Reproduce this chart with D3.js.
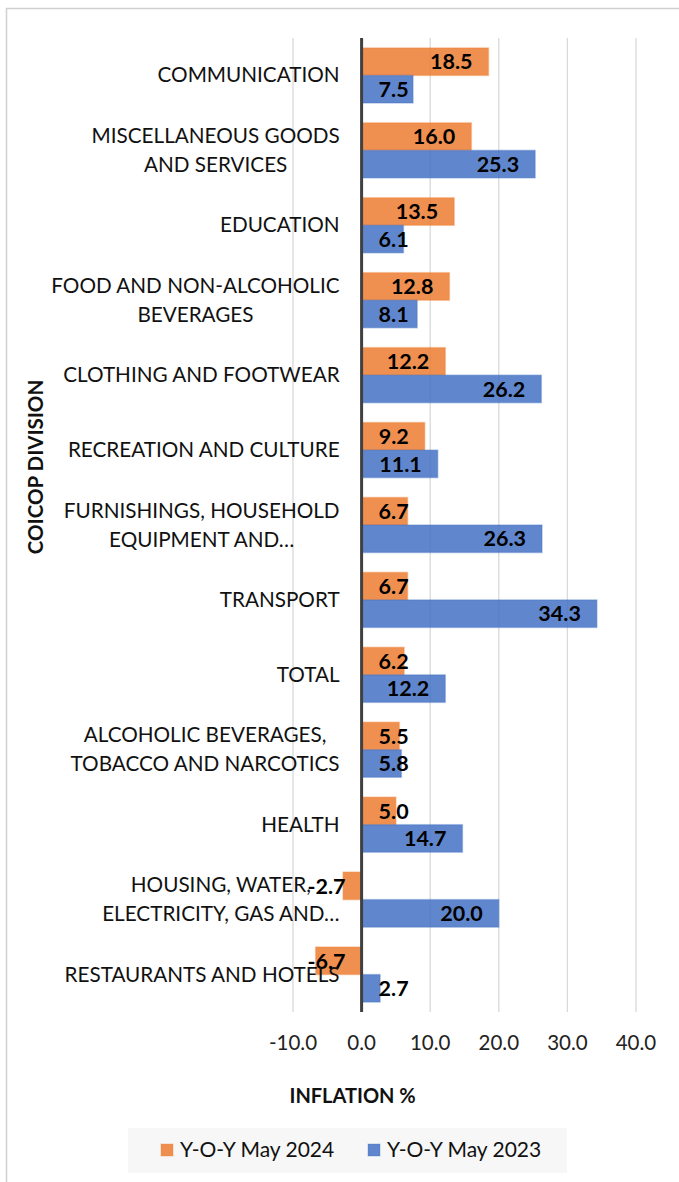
<!DOCTYPE html>
<html>
<head>
<meta charset="utf-8">
<script src="https://cdn.jsdelivr.net/npm/d3@7"></script>
<style>
  body { margin: 0; background: #fff; }
  svg { display: block; font-family: Lato, "Open Sans", sans-serif; }
</style>
</head>
<body>
<div id="chart"></div>
<script>
const F_WIDTH = 679;
const F_HEIGHT = 1182;
const MARGINS = {left: 293, right: 43, top: 38, bottom: 170};

const VIS_WIDTH = F_WIDTH - MARGINS.left - MARGINS.right;
const VIS_HEIGHT = F_HEIGHT - MARGINS.top - MARGINS.bottom;

// categories, top to bottom ("\n" = line break in the axis label)
const CATEGORIES = [
  "COMMUNICATION",
  "MISCELLANEOUS GOODS\nAND SERVICES",
  "EDUCATION",
  "FOOD AND NON-ALCOHOLIC\nBEVERAGES",
  "CLOTHING AND FOOTWEAR",
  "RECREATION AND CULTURE",
  "FURNISHINGS, HOUSEHOLD\nEQUIPMENT AND…",
  "TRANSPORT",
  "TOTAL",
  "ALCOHOLIC BEVERAGES,\nTOBACCO AND NARCOTICS",
  "HEALTH",
  "HOUSING, WATER,\nELECTRICITY, GAS AND…",
  "RESTAURANTS AND HOTELS"
];

const MAY_2024 = [18.5, 16.0, 13.5, 12.8, 12.2, 9.2, 6.7, 6.7, 6.2, 5.5, 5.0, -2.7, -6.7];
const MAY_2023 = [7.5, 25.3, 6.1, 8.1, 26.2, 11.1, 26.3, 34.3, 12.2, 5.8, 14.7, 20.0, 2.7];

const SERIES = ["Y-O-Y May 2024", "Y-O-Y May 2023"];
const X_TICKS = [-10, 0, 10, 20, 30, 40];

const COLORS = d3.scaleOrdinal()
        .domain(SERIES)
        .range(["#ED7D31", "#4472C4"]);

// one decimal, plain hyphen for negatives (like the original)
const FMT = (v) => d3.format(".1f")(v).replace("\u2212", "-");

const FRAME = d3.select("#chart")
            .append("svg")
              .attr("width", F_WIDTH)
              .attr("height", F_HEIGHT);

// outer chart border
FRAME.append("rect")
      .attr("x", 6.5)
      .attr("y", 8.5)
      .attr("width", F_WIDTH)
      .attr("height", F_HEIGHT)
      .attr("fill", "none")
      .attr("stroke", "#d0d0d0")
      .attr("stroke-width", 1.5);

const X_SCALE = d3.scaleLinear()
          .domain([-10, 40])
          .range([0, VIS_WIDTH]);

const Y_SCALE = d3.scaleBand()
          .domain(d3.range(CATEGORIES.length))
          .range([0, VIS_HEIGHT])
          .paddingInner(0.265)
          .paddingOuter(0.1325);

const SUB_SCALE = d3.scaleBand()
          .domain(SERIES)
          .range([0, Y_SCALE.bandwidth()]);

const VIS = FRAME.append("g")
        .attr("transform", "translate(" + MARGINS.left + "," + MARGINS.top + ")");

// vertical gridlines
VIS.append("g")
    .selectAll("line")
    .data(X_TICKS)
    .enter()
    .append("line")
      .attr("x1", (d) => X_SCALE(d))
      .attr("x2", (d) => X_SCALE(d))
      .attr("y1", 0)
      .attr("y2", VIS_HEIGHT)
      .attr("stroke", "#d9d9d9")
      .attr("stroke-width", 1.3);

// tick labels
VIS.append("g")
    .selectAll("text")
    .data(X_TICKS)
    .enter()
    .append("text")
      .attr("x", (d) => X_SCALE(d))
      .attr("y", VIS_HEIGHT + 38)
      .attr("text-anchor", "middle")
      .style("font-size", "20.5px")
      .style("fill", "#222")
      .text((d) => FMT(d));

const ROWS = CATEGORIES.map((c, i) => ({
  i: i,
  values: [
    {series: SERIES[0], value: MAY_2024[i]},
    {series: SERIES[1], value: MAY_2023[i]}
  ]
}));

const GROUPS = VIS.selectAll(".group")
    .data(ROWS)
    .enter()
    .append("g")
      .attr("class", "group")
      .attr("transform", (d) => "translate(0," + Y_SCALE(d.i) + ")");

GROUPS.selectAll("rect")
    .data((d) => d.values)
    .enter()
    .append("rect")
      .attr("x", (d) => X_SCALE(Math.min(0, d.value)))
      .attr("y", (d) => SUB_SCALE(d.series))
      .attr("width", (d) => Math.abs(X_SCALE(d.value) - X_SCALE(0)))
      .attr("height", SUB_SCALE.bandwidth())
      .attr("fill", (d) => COLORS(d.series))
      .attr("fill-opacity", 0.85)
      .attr("stroke", (d) => COLORS(d.series))
      .attr("stroke-opacity", 0.35)
      .attr("stroke-width", 1.5);

// zero line on top of the bars
VIS.append("line")
    .attr("x1", X_SCALE(0))
    .attr("x2", X_SCALE(0))
    .attr("y1", 0)
    .attr("y2", VIS_HEIGHT)
    .attr("stroke", "#404040")
    .attr("stroke-width", 3);

// value labels, "inside end" with a minimum offset from the axis
GROUPS.selectAll(".val")
    .data((d) => d.values)
    .enter()
    .append("text")
      .attr("class", "val")
      .attr("y", (d) => SUB_SCALE(d.series) + SUB_SCALE.bandwidth() / 2)
      .attr("dy", "0.36em")
      .style("font-size", "21.5px")
      .style("font-weight", "bold")
      .style("fill", "#000")
      .text((d) => FMT(d.value))
      .each(function(d) {
        const w = this.getComputedTextLength();
        let right;
        if (d.value < 0) {
          right = X_SCALE(0) - 16;
        } else {
          right = Math.max(X_SCALE(d.value) - 16, X_SCALE(0) + 17 + w);
        }
        d3.select(this).attr("x", right - w);
      });

// category labels: lines centred on each other, block right-aligned
const LABEL_RIGHT = X_SCALE(0) - 22;
const LINE_H = 29;

VIS.selectAll(".cat")
    .data(CATEGORIES)
    .enter()
    .append("text")
      .attr("class", "cat")
      .attr("y", (d, i) => Y_SCALE(i) + Y_SCALE.bandwidth() / 2)
      .attr("text-anchor", "middle")
      .style("font-size", "20.7px")
      .style("fill", "#111")
      .each(function(d) {
        const lines = d.split("\n");
        const t = d3.select(this);
        lines.forEach((ln, k) => {
          t.append("tspan")
            .attr("dy", k === 0 ? ((-(lines.length - 1) / 2) * LINE_H + 7) : LINE_H)
            .text(ln);
        });
        let maxW = 0;
        t.selectAll("tspan").each(function() {
          maxW = Math.max(maxW, this.getComputedTextLength());
        });
        t.selectAll("tspan").attr("x", LABEL_RIGHT - maxW / 2);
      });

// axis titles
FRAME.append("text")
      .attr("x", MARGINS.left + X_SCALE(0) - 9)
      .attr("y", 1103)
      .attr("text-anchor", "middle")
      .style("font-size", "20px")
      .style("font-weight", "bold")
      .style("fill", "#111")
      .text("INFLATION %");

FRAME.append("text")
      .attr("transform", "translate(43,467) rotate(-90)")
      .attr("text-anchor", "middle")
      .style("font-size", "20.5px")
      .style("font-weight", "bold")
      .style("fill", "#111")
      .text("COICOP DIVISION");

// legend
const LEGEND = FRAME.append("g");

LEGEND.append("rect")
      .attr("x", 128)
      .attr("y", 1128)
      .attr("width", 439)
      .attr("height", 45)
      .attr("fill", "#f7f7f7");

const LEG_X = [161, 368];

LEGEND.selectAll(".key")
      .data(SERIES)
      .enter()
      .append("rect")
        .attr("x", (d, i) => LEG_X[i])
        .attr("y", 1144)
        .attr("width", 12)
        .attr("height", 12)
        .attr("fill", (d) => COLORS(d))
        .attr("fill-opacity", 0.85)
        .attr("stroke", (d) => COLORS(d))
        .attr("stroke-opacity", 0.35);

LEGEND.selectAll(".ltext")
      .data(SERIES)
      .enter()
      .append("text")
        .attr("x", (d, i) => LEG_X[i] + 19)
        .attr("y", 1157)
        .style("font-size", "21px")
        .style("fill", "#111")
        .text((d) => d);
</script>
</body>
</html>
